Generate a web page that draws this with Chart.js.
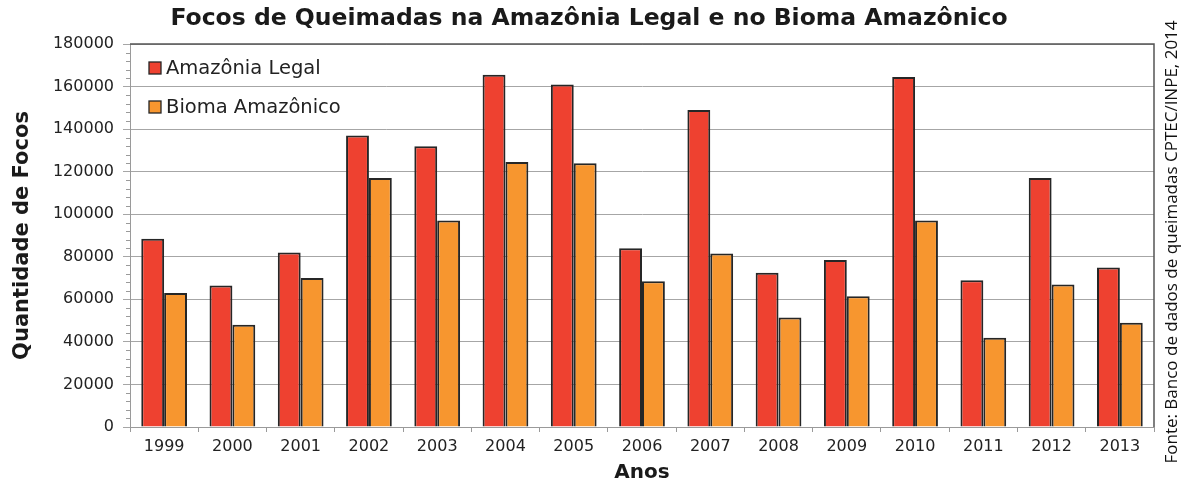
<!DOCTYPE html>
<html lang="pt">
<head>
<meta charset="UTF-8">
<title>Focos de Queimadas</title>
<script src="https://cdn.jsdelivr.net/npm/chart.js"></script>
<style>
  html, body { margin: 0; padding: 0; background: #fff; }
  #wrap { width: 1188px; height: 489px; position: relative; }
</style>
</head>
<body>
<div id="wrap"><canvas id="focos"></canvas></div>
<script>
// dados
const anos = ['1999','2000','2001','2002','2003','2004','2005','2006','2007','2008','2009','2010','2011','2012','2013'];
const amazoniaLegal = [88500, 66500, 82000, 137000, 132000, 165500, 161000, 84000, 149000, 72500, 78500, 164500, 69000, 117000, 75000];
const biomaAmazonico = [63000, 48000, 70000, 117000, 97000, 124500, 124000, 68500, 81500, 51500, 61500, 97000, 42000, 67000, 49000];
const yTicks = [0, 20000, 40000, 60000, 80000, 100000, 120000, 140000, 160000, 180000];

const corLegal = '#ee4130';
const corBioma = '#f7962f';
const borda = '#262626';
const fonte = '"DejaVu Sans", Verdana, sans-serif';

// titulo, legenda, minor ticks e fonte
const extras = {
  id: 'extras',
  afterDraw(chart) {
    const c = chart.ctx, a = chart.chartArea, y = chart.scales.y;
    c.save();
    // minor ticks no eixo y
    c.strokeStyle = '#9a9a9a';
    c.lineWidth = 1;
    for (let v = 0; v < 180000; v += 4000) {
      if (v % 20000 === 0) continue;
      const py = Math.round(y.getPixelForValue(v)) + 0.5;
      c.beginPath(); c.moveTo(a.left - 4, py); c.lineTo(a.left, py); c.stroke();
    }
    // borda superior e direita
    c.strokeStyle = '#555';
    c.lineWidth = 1.5;
    c.beginPath();
    c.moveTo(a.left, a.top); c.lineTo(a.right, a.top); c.lineTo(a.right, a.bottom);
    c.stroke();

    // titulo
    c.fillStyle = '#1a1a1a';
    c.font = 'bold 23.5px ' + fonte;
    c.textAlign = 'center';
    c.textBaseline = 'middle';
    c.fillText('Focos de Queimadas na Amazônia Legal e no Bioma Amazônico', 589, 19);

    // legenda
    const itens = [[chart.data.datasets[0].label, corLegal, 68], [chart.data.datasets[1].label, corBioma, 107]];
    c.font = '19.5px ' + fonte;
    c.textAlign = 'left';
    itens.forEach(([txt, cor, py]) => {
      c.fillStyle = cor;
      c.fillRect(149, py - 6, 12, 12);
      c.strokeStyle = borda; c.lineWidth = 1.3;
      c.strokeRect(149, py - 6, 12, 12);
      c.fillStyle = '#222';
      c.fillText(txt, 166, py + 1);
    });

    // fonte (vertical)
    c.translate(1172, 242);
    c.rotate(-Math.PI / 2);
    c.textAlign = 'center';
    c.fillStyle = '#111';
    c.font = '17px "Open Sans", "Noto Sans", sans-serif';
    c.fillText('Fonte: Banco de dados de queimadas CPTEC/INPE, 2014', 0, 0);
    c.restore();
  }
};

new Chart(document.getElementById('focos'), {
  type: 'bar',
  data: {
    labels: anos,
    datasets: [
      { label: 'Amazônia Legal', data: amazoniaLegal, backgroundColor: corLegal, borderColor: borda, borderWidth: 2, borderSkipped: 'bottom' },
      { label: 'Bioma Amazônico', data: biomaAmazonico, backgroundColor: corBioma, borderColor: borda, borderWidth: 2, borderSkipped: 'bottom' }
    ]
  },
  options: {
    responsive: true,
    maintainAspectRatio: false,
    animation: false,
    layout: { padding: { top: 44, right: 34, left: 0, bottom: 0 } },
    datasets: { bar: { categoryPercentage: 0.67, barPercentage: 1.0 } },
    plugins: { legend: { display: false }, tooltip: { enabled: false } },
    scales: {
      x: {
        afterFit(s) { s.height = 62; },
        grid: { offset: true, drawOnChartArea: false, color: '#9a9a9a', tickLength: 5 },
        border: { color: '#9a9a9a' },
        ticks: { color: '#222', font: { family: fonte, size: 16 }, padding: 5 },
        title: { display: true, text: 'Anos', color: '#1a1a1a', font: { family: fonte, size: 20, weight: 'bold' }, padding: { top: 3 } }
      },
      y: {
        min: 0, max: 180000,
        afterFit(s) { s.width = 130; },
        afterBuildTicks(s) { s.ticks = yTicks.map(v => ({ value: v })); },
        grid: { color: '#a6a6a6', tickLength: 7, lineWidth: 1 },
        border: { color: '#9a9a9a' },
        ticks: { color: '#222', font: { family: fonte, size: 16 }, padding: 9, callback: v => String(v) },
        title: { display: true, text: 'Quantidade de Focos', color: '#1a1a1a', font: { family: fonte, size: 21, weight: 'bold' }, padding: { top: 10, bottom: 0 } }
      }
    }
  },
  plugins: [extras]
});
</script>
</body>
</html>
